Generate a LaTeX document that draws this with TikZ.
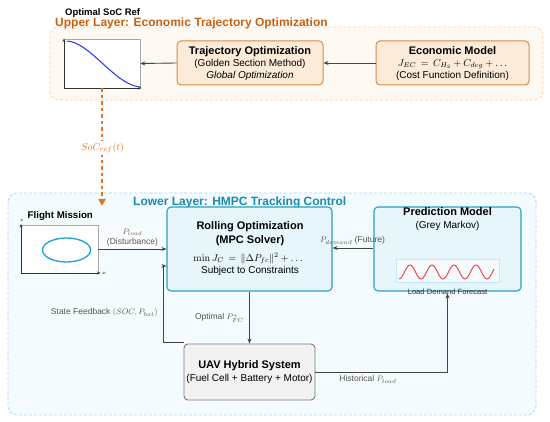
\documentclass[tikz,border=0pt]{standalone}
\usepackage[no-math]{fontspec}
\setmainfont{Liberation Sans}
\usetikzlibrary{arrows.meta,calc}
\definecolor{orTitle}{HTML}{C8600F}
\definecolor{orBorder}{HTML}{D98A47}
\definecolor{orFill}{HTML}{FCEBD9}
\definecolor{orLayerB}{HTML}{F9D3AE}
\definecolor{orLayerF}{HTML}{FFF9F3}
\definecolor{orArrow}{HTML}{E8731F}
\definecolor{blTitle}{HTML}{1A8BB0}
\definecolor{blLayerB}{HTML}{A6DDF0}
\definecolor{blLayerF}{HTML}{F3FBFE}
\definecolor{blBorder}{HTML}{2C9FBE}
\definecolor{blFill}{HTML}{E6F6FB}
\definecolor{grFill}{HTML}{F2F2F2}
\definecolor{grBorder}{HTML}{7A7A7A}
\definecolor{conn}{HTML}{444444}
\definecolor{lbl}{HTML}{555555}
\definecolor{curveBlue}{HTML}{2233EE}
\definecolor{ellCyan}{HTML}{1BA1D6}
\definecolor{sineRed}{HTML}{F04848}
\begin{document}
\begin{tikzpicture}[x=1pt,y=-1pt,
  layerbox/.style={rounded corners=9pt,dashed,dash pattern=on 3pt off 2pt,line width=0.8pt},
  obox/.style={draw=orBorder,fill=orFill,rounded corners=4pt,line width=1pt,inner sep=0pt},
  bbox/.style={draw=blBorder,fill=blFill,rounded corners=4pt,line width=1.1pt,inner sep=0pt},
  gbox/.style={draw=grBorder,fill=grFill,rounded corners=4pt,line width=0.9pt,inner sep=0pt},
  plotbox/.style={draw=gray!70,fill=white,line width=0.6pt,inner sep=0pt},
  btxt/.style={font=\fontsize{11}{12}\selectfont\bfseries,inner sep=0pt,anchor=base},
  rtxt/.style={font=\fontsize{10}{12}\selectfont,inner sep=0pt,anchor=base},
  elbl/.style={font=\fontsize{8.5}{10}\selectfont,text=lbl,inner sep=0pt,anchor=base},
  connector/.style={draw=conn,line width=0.9pt,-{Stealth[length=5pt,width=4pt]}},
  axis/.style={draw=black!80,line width=0.7pt,-{Stealth[length=3.5pt,width=3pt]}}
]
\useasboundingbox (0,0) rectangle (550,422);

% ---------- Upper layer ----------
\draw[layerbox,draw=orLayerB,fill=orLayerF] (50,27) rectangle (543,100);
\node[inner sep=0pt,anchor=base west,font=\fontsize{12}{14}\selectfont\bfseries,text=orTitle] (uptitle) at (55,26.5) {Upper Layer: Economic Trajectory Optimization};
\node[inner sep=0pt,anchor=base west,font=\fontsize{9.5}{11}\selectfont\bfseries] (soctitle) at (65,15.5) {Optimal SoC Ref};

\node[plotbox,minimum width=76pt,minimum height=49pt] (socplot) at (102,63.5) {};
\draw[axis] (64,88) -- (64,38.5);
\draw[axis] (64,88) -- (141.5,88);
\draw[curveBlue,line width=1pt] (67,41) .. controls (90,42) and (115,85) .. (140,87);

\node[obox,minimum width=146pt,minimum height=44pt] (traj) at (250,63) {};
\node[btxt] (trajA) at (250,54.3) {Trajectory Optimization};
\node[rtxt] (trajB) at (250,66.7) {(Golden Section Method)};
\node[rtxt,font=\fontsize{10}{12}\selectfont\itshape] (trajC) at (250,79) {Global Optimization};

\node[obox,minimum width=153pt,minimum height=44pt] (econ) at (452.5,63) {};
\node[btxt] (econA) at (452.5,54.3) {Economic Model};
\node[rtxt] (econB) at (452.5,66.5) {$J_{EC} \,=\, C_{H_2} + C_{deg} + \dots$};
\node[rtxt] (econC) at (452.5,79) {(Cost Function Definition)};

\draw[connector] (econ.west) -- (traj.east);
\draw[connector] (traj.west) -- (socplot.east);

% ---------- Lower layer ----------
\draw[layerbox,draw=blLayerB,fill=blLayerF] (8,193) rectangle (536,415);

\coordinate (refend) at (102,206);
\draw[orArrow,line width=1.8pt,dash pattern=on 3.5pt off 3pt,-{Triangle[length=7pt,width=7pt]}] (socplot.south) -- (refend);
\node[fill=white,inner sep=2pt,text=orArrow,font=\fontsize{10}{12}\selectfont] (reflbl) at (102.5,148) {$SoC_{ref}(t)$};

\node[inner sep=0pt,anchor=base west,font=\fontsize{12}{14}\selectfont\bfseries,text=blTitle] (lowtitle) at (133,205.5) {Lower Layer: HMPC Tracking Control};

% Flight mission
\node[inner sep=0pt,anchor=base west,font=\fontsize{9.7}{11}\selectfont\bfseries] (fmtitle) at (27.5,218.5) {Flight Mission};
\node[plotbox,minimum width=77pt,minimum height=48pt] (flight) at (59.5,249) {};
\draw[axis] (21,273) -- (21,224);
\draw[axis] (21,273) -- (100.5,273);
\node[inner sep=0pt,font=\fontsize{5}{6}\selectfont] (zlbl) at (22,220.5) {$z$};
\node[inner sep=0pt,font=\fontsize{5}{6}\selectfont] (xlbl) at (104,273.5) {$x$};
\draw[draw=ellCyan,line width=1.3pt] (66.5,250) ellipse [x radius=24pt,y radius=12pt];

% MPC
\node[bbox,minimum width=165pt,minimum height=84pt] (mpc) at (249.5,249) {};
\node[btxt] (mpcA) at (250,230) {Rolling Optimization};
\node[btxt] (mpcB) at (250,243.3) {(MPC Solver)};
\node[rtxt] (mpcC) at (248,261.5) {$\min J_C \,=\, \|\Delta P_{fc}\|^2 + \dots$};
\node[rtxt] (mpcD) at (250,273.3) {Subject to Constraints};

% Prediction
\node[bbox,minimum width=147pt,minimum height=84pt] (pred) at (447.5,249) {};
\node[btxt] (predA) at (447.5,216) {Prediction Model};
\node[rtxt] (predB) at (447.5,229) {(Grey Markov)};
\node[draw=cyan!25,fill=white!60!blFill,minimum width=103pt,minimum height=23pt,inner sep=0pt,line width=0.6pt] (sinebox) at (447.5,270.5) {};
\draw[draw=sineRed,line width=1pt,domain=0:95,samples=120,smooth,variable=\t]
  plot ({399+\t},{272-7*sin((\t-5.5)/22*360)});
\node[rtxt,font=\fontsize{7.6}{9}\selectfont,text=black!80] (predC) at (447.5,294.5) {Load Demand Forecast};

% UAV
\node[gbox,minimum width=131pt,minimum height=56pt] (uav) at (249.5,372) {};
\node[btxt] (uavA) at (249.5,368.3) {UAV Hybrid System};
\node[rtxt] (uavB) at (249.5,381.7) {(Fuel Cell + Battery + Motor)};

% connectors
\draw[connector] (flight.east) -- (flight.east -| mpc.west);
\node[elbl,fill=white,inner sep=0.8pt] (pload) at (132.5,234.3) {$P_{load}$};
\node[elbl,fill=white,inner sep=0.8pt] (pdist) at (132.5,245) {(Disturbance)};

\draw[connector] ([yshift=1pt]pred.west) -- ([yshift=1pt]mpc.east);
\node[elbl] (pdem) at (352.5,243) {$P_{demand}$ (Future)};

\draw[connector] (mpc.south) -- (uav.north);
\node[elbl] (popt) at (219.5,320) {Optimal $P^*_{FC}$};

\coordinate (fbc) at (163,266);
\draw[connector] ([yshift=1pt]uav.north west) -| (fbc) -- (fbc -| mpc.west);
\node[elbl,anchor=base east] (fblbl) at (158,315) {State Feedback $(SOC, P_{bat})$};

\coordinate (histend) at (447.5,293.5);
\draw[connector] (uav.east) -| (histend);
\node[elbl] (hist) at (368,381.7) {Historical $P_{load}$};
\end{tikzpicture}
\end{document}
